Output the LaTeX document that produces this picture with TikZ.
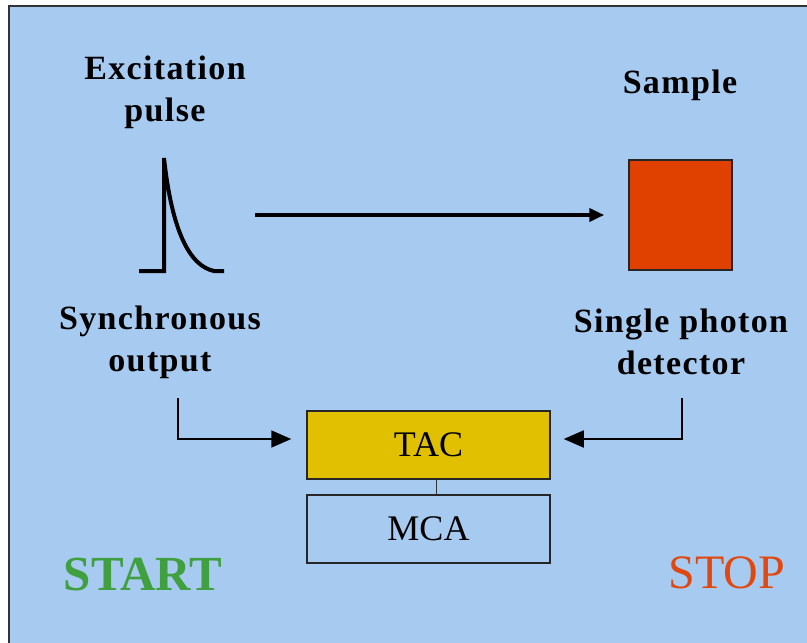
\documentclass[tikz,border=0pt]{standalone}
\usepackage{fontspec}
\setmainfont{Liberation Serif}
\newfontfamily\labfont[LetterSpace=4]{Liberation Serif}
\usetikzlibrary{arrows.meta}
\definecolor{panelblue}{RGB}{166,202,240}
\definecolor{tacyellow}{RGB}{224,192,0}
\definecolor{samplered}{RGB}{224,64,0}
\definecolor{startgreen}{RGB}{64,160,64}
\definecolor{stoporange}{RGB}{224,72,16}

\begin{document}
\begin{tikzpicture}[x=1pt,y=-1pt,
    lab/.style={align=center,inner sep=0pt,font=\labfont\bfseries\fontsize{34}{42}\selectfont},
    unit/.style={draw=black!85,line width=1.5pt,minimum width=243pt,minimum height=68pt,
        inner sep=0pt,font=\fontsize{36}{40}\selectfont},
    feed/.style={line width=1.8pt,-{Triangle[length=20pt,width=17pt]}}]
\useasboundingbox (0,0) rectangle (807,643);
% Panel
\fill[panelblue] (9,6) rectangle (807,643);
\draw[line width=2.5pt,black!80] (9,643) -- (9,6) -- (807,6);
% Labels
\node[lab] (exc) at (165,92) {Excitation\\pulse};
\node[lab,anchor=base] (samp) at (680,93) {Sample};
\node[lab] (sync) at (160,342) {Synchronous\\output};
\node[lab] (spd) at (681,342) {Single photon\\detector};
% Pulse and sample
\draw[line width=4pt] (139,271) -- (164,271) -- (164,158)
    .. controls (172,232) and (190,266) .. (214,271) -- (224,271);
\node[draw=black!85,line width=1.5pt,fill=samplered,minimum width=103pt,
    minimum height=110pt,inner sep=0pt] (sq) at (680.5,215) {};
\draw[line width=4pt,-{Triangle[length=15pt,width=13pt]}] (255,215) -- ([xshift=-24pt]sq.west);
% Electronics
\node[unit,fill=tacyellow] (tac) at (428.5,445) {TAC};
\node[unit] (mca) at (428.5,529) {MCA};
\draw[line width=1.5pt,black!80] ([xshift=8pt]tac.south) -- ([xshift=8pt]mca.north);
\coordinate (sa) at (178,398);
\coordinate (sb) at (682,398);
\draw[feed,shorten >=15pt] (sa) |- ([yshift=6pt]tac.west);
\draw[feed,shorten >=13pt] (sb) |- ([yshift=6pt]tac.east);
\node[text=startgreen,font=\bfseries\fontsize{49}{50}\selectfont] (start) at (143,575) {START};
\node[text=stoporange,font=\fontsize{48}{50}\selectfont] (stop) at (727,573) {STOP};
\end{tikzpicture}
\end{document}
